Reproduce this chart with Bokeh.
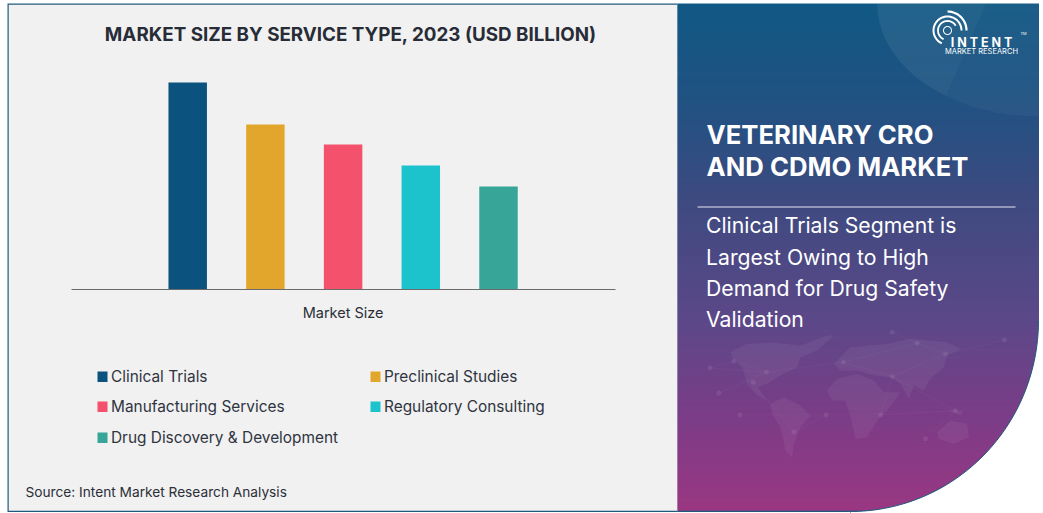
import math
from bokeh.plotting import figure
from bokeh.embed import file_html
from bokeh.resources import INLINE
from bokeh.models import Range1d, BoxAnnotation, PolyAnnotation, Label, LinearAxis, FixedTicker

TITLE = "MARKET SIZE BY SERVICE TYPE, 2023  (USD BILLION)"
GROUP = "Market Size"
CATEGORIES = ["Clinical Trials", "Preclinical Studies", "Manufacturing Services",
              "Regulatory Consulting", "Drug Discovery & Development"]
VALUES = [2.07, 1.65, 1.45, 1.24, 1.03]
COLORS = ["#0b527f", "#e3a62c", "#f4516c", "#1cc2cc", "#37a597"]
SOURCE_NOTE = "Source: Intent Market Research Analysis"
HEADLINE = ["VETERINARY CRO", "AND CDMO MARKET"]
BODY = ["Clinical Trials Segment is", "Largest Owing to High", "Demand for Drug Safety", "Validation"]

W, H = 1043, 513
BASE_Y, FIRST_X, STEP_X, Y_SCALE = 289, 187.2, 77.7, 100
BORDER = "#1f5a7d"
PANEL = "#f1f1f1"
FONT = "Inter"

p = figure(width=W, height=H,
           x_range=Range1d(-FIRST_X / STEP_X, (W - FIRST_X) / STEP_X),
           y_range=Range1d((BASE_Y - H) / Y_SCALE, BASE_Y / Y_SCALE),
           x_axis_location=None, y_axis_location=None,
           output_backend="svg", toolbar_location=None,
           min_border=0, min_border_left=0, min_border_right=0, min_border_top=0, min_border_bottom=0,
           outline_line_color=None, background_fill_color="white", border_fill_color="white")

def box(l, r, t, b, color, alpha=1.0):
    p.add_layout(BoxAnnotation(left=l, right=r, top=t, bottom=b, left_units="canvas", right_units="canvas",
                               top_units="canvas", bottom_units="canvas", level="underlay",
                               fill_color=color, fill_alpha=alpha, line_color=None))

def poly(xs, ys, color, alpha=1.0, line=None, lw=1, line_alpha=1.0):
    p.add_layout(PolyAnnotation(xs=xs, ys=ys, xs_units="canvas", ys_units="canvas", fill_color=color,
                                fill_alpha=alpha, line_color=line, line_width=lw, line_alpha=line_alpha,
                                level="underlay"))

def text(x, y, s, size, color="#2b2f38", bold=False, align="left", font=FONT):
    p.add_layout(Label(x=x, y=y, x_units="canvas", y_units="canvas", text=s, text_font=font,
                       text_font_size=f"{size}px", text_color=color, text_align=align, text_baseline="middle",
                       text_font_style="bold" if bold else "normal"))

# card
box(7, 677, 3, 511.5, BORDER)
box(8.2, 677, 4.2, 510.3, PANEL)

# gradient panel
stops = [(3, (17, 88, 132)), (100, (32, 82, 130)), (200, (62, 74, 128)), (320, (92, 72, 136)),
         (420, (125, 60, 135)), (512, (155, 55, 130))]
def col(y):
    for (a, ca), (b, cb) in zip(stops, stops[1:]):
        if a <= y <= b:
            f = (y - a) / (b - a)
            return "#%02x%02x%02x" % tuple(round(u + (v - u) * f) for u, v in zip(ca, cb))
    return "#%02x%02x%02x" % stops[-1][1]
for y in range(3, 511, 2):
    box(677, 1038.5, y, y + 2.5, col(y))
box(677, 1038.5, 510.2, 511.5, BORDER)

# lighter swoop top right of gradient panel, fading towards the right
ang = [math.radians(a) for a in range(0, 91, 5)]
poly([1038.5 - 162 * math.cos(a) for a in ang] + [1038.5], [3 + 113 * math.sin(a) for a in ang] + [3], "#ffffff", 0.04)
poly([1038.5 - 162 * math.cos(a) for a in ang[:12]] + [1038.5 - 162 * math.cos(ang[11]) + 40],
     [3 + 113 * math.sin(a) for a in ang[:12]] + [3], "#ffffff", 0.03)

# faint world map (outlines, in 3x crop coordinates)
land = [
    [(210,95),(260,70),(330,65),(420,75),(500,45),(520,45),(470,90),(420,110),(410,140),(360,165),(320,190),(290,200),(320,240),(290,225),(260,190),(245,140),(215,110)],
    [(330,250),(370,230),(420,255),(450,285),(420,320),(400,370),(395,410),(375,390),(360,320),(335,280)],
    [(500,210),(530,175),(590,160),(640,180),(670,215),(720,215),(680,270),(650,300),(620,350),(585,355),(570,290),(555,240),(515,240)],
    [(520,130),(570,80),(680,70),(750,55),(860,65),(900,85),(860,105),(850,140),(810,175),(790,210),(760,195),(745,235),(720,190),(690,170),(640,165),(590,150),(540,150)],
    [(830,335),(870,300),(920,310),(925,350),(880,370),(835,355)],
    [(860,270),(910,270),(900,285)],
]
def mx(v): return 660 + v / 3
def my(v): return 320 + v / 3
for shape in land:
    poly([mx(a) for a, _ in shape], [my(b) for _, b in shape], "#ffffff", 0.055)
nodes = [(148,142),(175,218),(238,283),(318,155),(278,185),(400,335),(497,283),(548,125),(695,168),(660,283),
         (885,270),(795,355),(770,68),(855,100),(1032,58),(695,35),(220,122)]
links = [(0,3),(1,3),(2,6),(3,7),(5,6),(6,9),(7,8),(8,9),(8,13),(8,10),(9,10),(10,11),(12,13),(13,14),(7,12),(4,5),(15,12),(16,3),(0,16)]
for a, b in links:
    poly([mx(nodes[a][0]), mx(nodes[b][0])], [my(nodes[a][1]), my(nodes[b][1])], None, 0, line="#ffffff", lw=0.6, line_alpha=0.06)
for nx, ny in nodes:
    a = [math.radians(t) for t in range(0, 360, 45)]
    poly([mx(nx) + 2.6 * math.cos(t) for t in a], [my(ny) + 2.6 * math.sin(t) for t in a], "#ffffff", 0.08)

# curved corner
cx, cy, rx, ry = 850, 320, 188, 191
ang = [math.radians(a) for a in range(0, 91, 2)]
poly([cx + rx * math.cos(a) for a in ang] + [cx, 1060, 1060],
     [cy + ry * math.sin(a) for a in ang] + [530, 530, cy], "#ffffff", 1.0, line=BORDER, lw=1)
box(1038.5, 1043, 0, 513, "white")
box(cx, 1043, 511.5, 513, "white")

# logo
def arc(cx0, cy0, r, th, a0, a1):
    a = [math.radians(v) for v in range(a0, a1 + 1, 6)]
    xs = [cx0 + (r + th / 2) * math.cos(t) for t in a] + [cx0 + (r - th / 2) * math.cos(t) for t in reversed(a)]
    ys = [cy0 - (r + th / 2) * math.sin(t) for t in a] + [cy0 - (r - th / 2) * math.sin(t) for t in reversed(a)]
    poly(xs, ys, "white")
arc(947, 30, 19, 2.2, 0, 90)
arc(947, 30, 14, 2.0, 0, 250)
arc(947, 30, 9.5, 1.8, 30, 250)
arc(947, 30, 4, 1.0, 0, 360)
text(981, 42, "I N T E N T", 12.5, "white", True, "center")
text(981, 50.5, "MARKET RESEARCH", 7.5, "white", False, "center")
text(1020, 33, "TM", 4, "white")

# texts
text(352.5, 34, TITLE, 18.8, "#272c36", True, "center")
text(706, 134, HEADLINE[0], 25.7, "white", True)
text(706, 166, HEADLINE[1], 25.7, "white", True)
box(697, 1015, 206, 207, "#e8e4ef")
for y, s in zip([224.5, 256.5, 287.5, 318.5], BODY):
    text(705.5, y, s, 21.2, "white")
text(25, 491, SOURCE_NOTE, 13.7, "#2b2f38")

# legend
lx = [97, 370, 97, 370, 97]
ly = [376, 376, 406, 406, 437]
for x, y, c, s in zip(lx, ly, COLORS, CATEGORIES):
    box(x, x + 10, y - 5, y + 5.5, c)
    text(x + 13.5, y - 0.5, s, 15.4, "#2f3440")

# bars
p.vbar(x=list(range(len(VALUES))), top=VALUES, bottom=0, width=0.495, color=COLORS, line_color=None)

# axis: baseline with one centred label
centre = (len(VALUES) - 1) / 2
ax = LinearAxis(fixed_location=0, bounds=(centre - 3.5, centre + 3.5), ticker=FixedTicker(ticks=[centre]),
                major_label_overrides={centre: GROUP})
ax.axis_line_color = "#6b6b6b"
ax.major_tick_line_color = None
ax.minor_tick_line_color = None
ax.major_label_text_font_size = "14.5px"
ax.major_label_text_font = FONT
ax.major_label_text_color = "#2b2f38"
ax.major_label_standoff = 8
p.add_layout(ax, "below")
p.grid.visible = False

open("out.html", "w").write(file_html(p, INLINE))
